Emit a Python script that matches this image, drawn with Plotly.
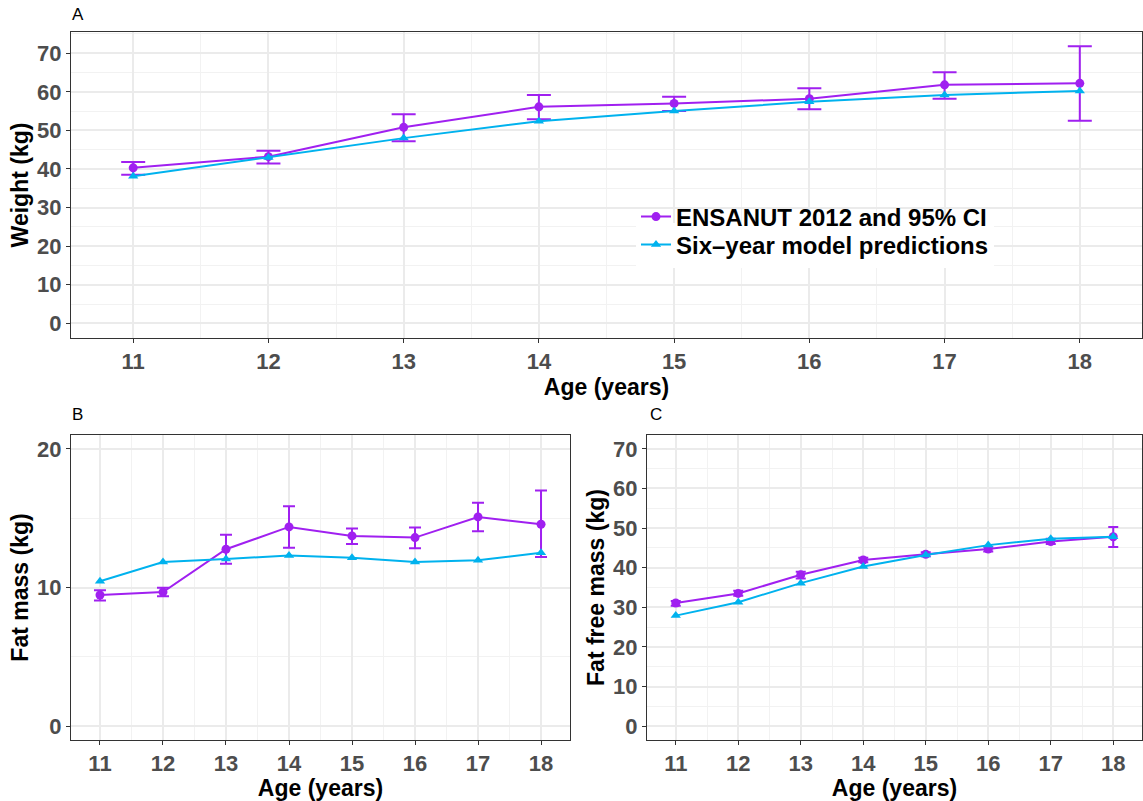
import plotly.graph_objects as go

ages = [11, 12, 13, 14, 15, 16, 17, 18]

# Panel A: weight
w_obs = [40.3, 43.2, 50.8, 56.1, 57.0, 58.2, 61.8, 62.2]
w_hi = [41.8, 44.7, 54.2, 59.2, 58.7, 60.9, 65.1, 71.8]
w_lo = [38.5, 41.4, 47.2, 52.9, 55.0, 55.5, 58.2, 52.5]
w_pred = [38.1, 43.0, 48.0, 52.4, 55.0, 57.4, 59.2, 60.2]

# Panel B: fat mass
f_obs = [9.46, 9.67, 12.76, 14.37, 13.72, 13.60, 15.09, 14.56]
f_hi = [9.80, 9.99, 13.80, 15.86, 14.25, 14.32, 16.12, 16.99]
f_lo = [9.07, 9.36, 11.72, 12.87, 13.14, 12.83, 14.06, 12.20]
f_pred = [10.45, 11.84, 12.06, 12.30, 12.15, 11.84, 11.96, 12.51]

# Panel C: fat free mass
ff_obs = [31.1, 33.5, 38.2, 41.95, 43.4, 44.7, 46.6, 47.8]
ff_hi = [31.6, 34.2, 39.0, 42.5, 43.9, 45.3, 47.3, 50.3]
ff_lo = [30.4, 32.9, 37.3, 41.4, 42.9, 44.1, 46.0, 45.2]
ff_pred = [27.9, 31.3, 36.1, 40.3, 43.2, 45.7, 47.3, 47.8]

PURPLE = "#A020F0"
BLUE = "#00B2EE"
FONT = "Liberation Sans"

fig = go.Figure()

def add_panel(obs, hi, lo, pred, xa, ya, capw, showlegend):
    fig.add_trace(go.Scatter(
        x=ages, y=obs, mode="lines+markers", name="ENSANUT 2012 and 95% CI",
        line=dict(color=PURPLE, width=2), marker=dict(color=PURPLE, size=9, symbol="circle"),
        error_y=dict(type="data", symmetric=False,
                     array=[h - o for h, o in zip(hi, obs)],
                     arrayminus=[o - l for o, l in zip(obs, lo)],
                     color=PURPLE, thickness=2, width=capw),
        xaxis=xa, yaxis=ya, showlegend=showlegend, legend="legend2"))
    fig.add_trace(go.Scatter(
        x=ages, y=pred, mode="lines+markers", name="Six\u2013year model predictions",
        line=dict(color=BLUE, width=2), marker=dict(color=BLUE, size=9, symbol="triangle-up"),
        xaxis=xa, yaxis=ya, showlegend=showlegend, legend="legend"))

add_panel(w_obs, w_hi, w_lo, w_pred, "x", "y", 12, True)
add_panel(f_obs, f_hi, f_lo, f_pred, "x2", "y2", 6, False)
add_panel(ff_obs, ff_hi, ff_lo, ff_pred, "x3", "y3", 5, False)

W, H = 1143, 801

def xd(a, b):
    return [a / W, b / W]

def yd(top, bottom):
    return [1 - bottom / H, 1 - top / H]

tickfont = dict(family=FONT, size=22, color="#4D4D4D", weight="bold")
titlefont = dict(family=FONT, size=23, color="black", weight="bold")

def xaxis(domain, anchor, rng):
    return dict(domain=domain, anchor=anchor, range=rng, tickmode="array",
                tickvals=ages, ticktext=[str(a) for a in ages],
                showgrid=True, gridcolor="#EBEBEB", gridwidth=1.5,
                minor=dict(dtick=0.5, tick0=10.5, showgrid=True, gridcolor="#F2F2F2", gridwidth=1),
                showline=True, mirror=True, linecolor="#333333", linewidth=1,
                ticks="outside", ticklen=4, tickcolor="#333333", tickwidth=1,
                tickfont=tickfont, zeroline=False,
                title=dict(text="Age (years)", font=titlefont, standoff=0))

def yaxis(domain, anchor, rng, dtick, title):
    return dict(domain=domain, anchor=anchor, range=rng, dtick=dtick, tick0=0,
                showgrid=True, gridcolor="#EBEBEB", gridwidth=1.5,
                minor=dict(dtick=dtick / 2, tick0=0, showgrid=True, gridcolor="#F2F2F2", gridwidth=1),
                showline=True, mirror=True, linecolor="#333333", linewidth=1,
                ticks="outside", ticklen=4, tickcolor="#333333", tickwidth=1,
                tickfont=tickfont, zeroline=False,
                title=dict(text=title, font=titlefont, standoff=2))

legfont = dict(family=FONT, size=24, color="black", weight="bold")
xr = [10.54, 18.46]
fig.update_layout(
    width=W, height=H, margin=dict(l=0, r=0, t=0, b=0),
    paper_bgcolor="white", plot_bgcolor="white",
    font=dict(family=FONT),
    xaxis=xaxis(xd(71, 1142), "y", xr),
    yaxis=yaxis(yd(32, 338), "x", [-3.8, 75.5], 10, "Weight (kg)"),
    xaxis2=xaxis(xd(71, 570), "y2", xr),
    yaxis2=yaxis(yd(435, 740), "x2", [-1.0, 21.0], 10, "Fat mass (kg)"),
    xaxis3=xaxis(xd(647, 1142), "y3", xr),
    yaxis3=yaxis(yd(435, 740), "x3", [-3.5, 73.5], 10, "Fat free mass (kg)"),
    # second row (drawn first, white background)
    legend=dict(x=636 / W, y=1 - 245 / H, xanchor="left", yanchor="middle",
                bgcolor="white", font=legfont, itemwidth=30),
    # first row (drawn on top)
    legend2=dict(x=636 / W, y=1 - 217 / H, xanchor="left", yanchor="middle",
                 bgcolor="rgba(255,255,255,0)", font=legfont, itemwidth=30),
    annotations=[
        dict(text="A", x=70 / W, y=1 - 14 / H, xref="paper", yref="paper", xanchor="left", yanchor="middle",
             showarrow=False, font=dict(family=FONT, size=17, color="black")),
        dict(text="B", x=70 / W, y=1 - 414 / H, xref="paper", yref="paper", xanchor="left", yanchor="middle",
             showarrow=False, font=dict(family=FONT, size=17, color="black")),
        dict(text="C", x=648 / W, y=1 - 414 / H, xref="paper", yref="paper", xanchor="left", yanchor="middle",
             showarrow=False, font=dict(family=FONT, size=17, color="black")),
    ],
)

fig.write_html("out.html")
